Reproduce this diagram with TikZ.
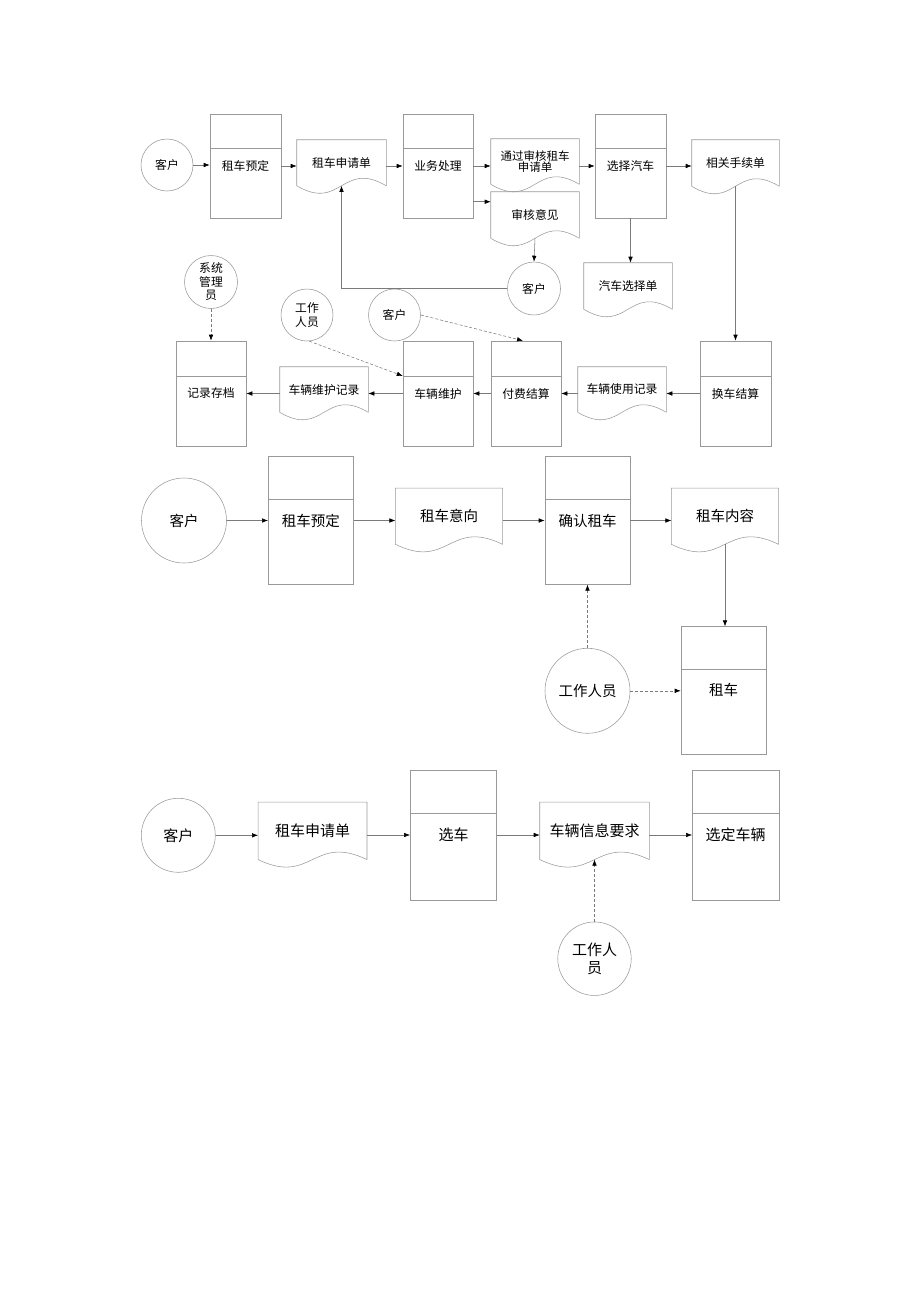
\documentclass[tikz,border=0pt]{standalone}
\usepackage{fontspec}
\setmainfont{Noto Sans CJK SC}
\usetikzlibrary{arrows.meta,calc}
\definecolor{linegray}{HTML}{999999}
\definecolor{flowgray}{HTML}{7A7A7A}

\begin{document}
\begin{tikzpicture}[x=1pt,y=-1pt,line width=0.55pt,
    proc/.style={draw=linegray,rectangle,inner sep=0pt,align=center},
    doc/.style={rectangle,inner sep=0pt,align=center},
    actor/.style={draw=linegray,circle,inner sep=0pt,align=center},
    flow/.style={draw=flowgray,-{Latex[length=6pt,width=4.5pt,color=black]}},
    aux/.style={flow,dash pattern=on 3pt off 2pt},
    chico/.style={font=\fontsize{11.8}{13.5}\selectfont},
    medio/.style={font=\fontsize{14.5}{17}\selectfont},
    grande/.style={font=\fontsize{15}{18}\selectfont}]
    \useasboundingbox (0,0) rectangle (920,1302);

    % Primer diagrama: fila superior
    \begin{scope}[chico]
    \node[actor,minimum size=52] (c1) at (167,165) {客户};
    \node[proc,minimum width=71,minimum height=104] (p1) at (245.5,166) {租车预定};
    \node[doc,minimum width=89,minimum height=45.5] (d1) at (341.5,162.75) {租车申请单};
    \node[proc,minimum width=70,minimum height=104] (p2) at (438,166) {业务处理};
    \node[doc,minimum width=88,minimum height=45,font=\fontsize{11.5}{11.5}\selectfont] (d2) at (535,161.5) {通过审核租车\\申请单};
    \node[doc,minimum width=88,minimum height=46] (d3) at (535,215) {审核意见};
    \node[proc,minimum width=71,minimum height=104] (p3) at (630.5,166) {选择汽车};
    \node[doc,minimum width=87,minimum height=46] (d4) at (735.5,163) {相关手续单};
    \node[actor,minimum size=53] (c2) at (534,288.5) {客户};
    \node[doc,minimum width=88,minimum height=46] (d5) at (628,286) {汽车选择单};

    % Primer diagrama: fila inferior
    \node[proc,minimum width=71,minimum height=105] (p6) at (735.5,393.5) {换车结算};
    \node[doc,minimum width=88,minimum height=45] (d6) at (622,389.5) {车辆使用记录};
    \node[proc,minimum width=70,minimum height=105] (p5) at (526,393.5) {付费结算};
    \node[proc,minimum width=70,minimum height=105] (p4) at (438,393.5) {车辆维护};
    \node[doc,minimum width=88,minimum height=45] (d7) at (324,389.5) {车辆维护记录};
    \node[proc,minimum width=70,minimum height=105] (p7) at (211,393.5) {记录存档};
    \node[actor,minimum size=53] (c3) at (211,282) {系统\\管理\\员};
    \node[actor,minimum size=52] (c4) at (307,315) {工作\\人员};
    \node[actor,minimum size=52] (c5) at (394.5,315) {客户};
    \end{scope}

    % Segundo diagrama
    \begin{scope}[medio]
    \node[actor,minimum size=85] (c6) at (184,520.5) {客户};
    \node[proc,minimum width=85,minimum height=127.6] (p8) at (310.8,520.5) {租车预定};
    \node[doc,minimum width=106.6,minimum height=55.7] (d8) at (449,516.2) {租车意向};
    \node[proc,minimum width=85,minimum height=127.6] (p9) at (587.5,520.5) {确认租车};
    \node[doc,minimum width=106.6,minimum height=55.7] (d9) at (725,516.2) {租车内容};
    \node[proc,minimum width=85,minimum height=127.3] (p10) at (723.5,690.3) {租车};
    \node[actor,minimum size=85] (c7) at (587.5,690.8) {工作人员};
    \end{scope}

    % Tercer diagrama
    \begin{scope}[grande]
    \node[actor,minimum size=74] (c8) at (178.3,835.3) {客户};
    \node[doc,minimum width=108.4,minimum height=57] (d10) at (312.5,830.8) {租车申请单};
    \node[proc,minimum width=86.4,minimum height=130] (p11) at (453.5,835) {选车};
    \node[doc,minimum width=109,minimum height=57] (d11) at (594.5,830.8) {车辆信息要求};
    \node[proc,minimum width=86.7,minimum height=130] (p12) at (735.7,835) {选定车辆};
    \node[actor,minimum size=73.5] (c9) at (594.5,958.7) {工作人\\员};
    \end{scope}

    % Divisiones de los procesos
    \foreach \n in {p1,p2,p3,p4,p5,p6,p7,p8,p9,p10,p11,p12}
        \draw[linegray] ($(\n.north west)!1/3!(\n.south west)$) -- ($(\n.north east)!1/3!(\n.south east)$);

    % Documentos
    \foreach \n/\w in {d1/89,d2/88,d3/88,d4/87,d5/88,d6/88,d7/88,d8/106.6,d9/106.6,d10/108.4,d11/109}
        \draw[linegray] (\n.south east) -- (\n.north east) -- (\n.north west) -- (\n.south west)
            .. controls +(\w/2,26) and +(-\w/2,-26) .. (\n.south east);

    % Flujos del primer diagrama
    \draw[flow] (c1.east) -- (c1.east -| p1.west);
    \draw[flow] (p1.east) -- (p1.east -| d1.west);
    \draw[flow] (p2.west -| d1.east) -- (p2.west);
    \draw[flow] (p2.east) -- (p2.east -| d2.west);
    \draw[flow] ($(p2.east |- d3.north)+(0,10)$) -- ($(d3.north west)+(0,10)$);
    \draw[flow] (p3.west -| d2.east) -- (p3.west);
    \draw[flow] (p3.east) -- (p3.east -| d4.west);
    \draw[flow] (d3.south) -- (c2.north);
    \draw[flow] (c2.west) -| (d1.south);
    \draw[flow] (p3.south) -- (p3.south |- d5.north);
    \draw[flow] (d4.south) -- (d4.south |- p6.north);
    \draw[flow] (p6.west) -- (p6.west -| d6.east);
    \draw[flow] (p5.east -| d6.west) -- (p5.east);
    \draw[flow] (p5.west) -- (p4.east);
    \draw[flow] (p4.west) -- (p4.west -| d7.east);
    \draw[flow] (p7.east -| d7.west) -- (p7.east);
    \draw[aux] (c3.south) -- (p7.north);
    \draw[aux] (c4.-85) -- ($(p4.north west)!1/3!(p4.south west)$);
    \draw[aux] (c5.east) -- ($(p5.north)+(-3,0)$);

    % Flujos del segundo diagrama
    \draw[flow] (c6.east) -- (c6.east -| p8.west);
    \draw[flow] (p8.east) -- (p8.east -| d8.west);
    \draw[flow] (p9.west -| d8.east) -- (p9.west);
    \draw[flow] (p9.east) -- (p9.east -| d9.west);
    \draw[flow] (d9.south) -- (d9.south |- p10.north);
    \draw[aux] (c7.north) -- (p9.south);
    \draw[aux] (c7.east) -- (c7.east -| p10.west);

    % Flujos del tercer diagrama
    \draw[flow] (c8.east) -- (c8.east -| d10.west);
    \draw[flow] (p11.west -| d10.east) -- (p11.west);
    \draw[flow] (p11.east) -- (p11.east -| d11.west);
    \draw[flow] (p12.west -| d11.east) -- (p12.west);
    \draw[aux] (c9.north) -- (d11.south);
\end{tikzpicture}
\end{document}
